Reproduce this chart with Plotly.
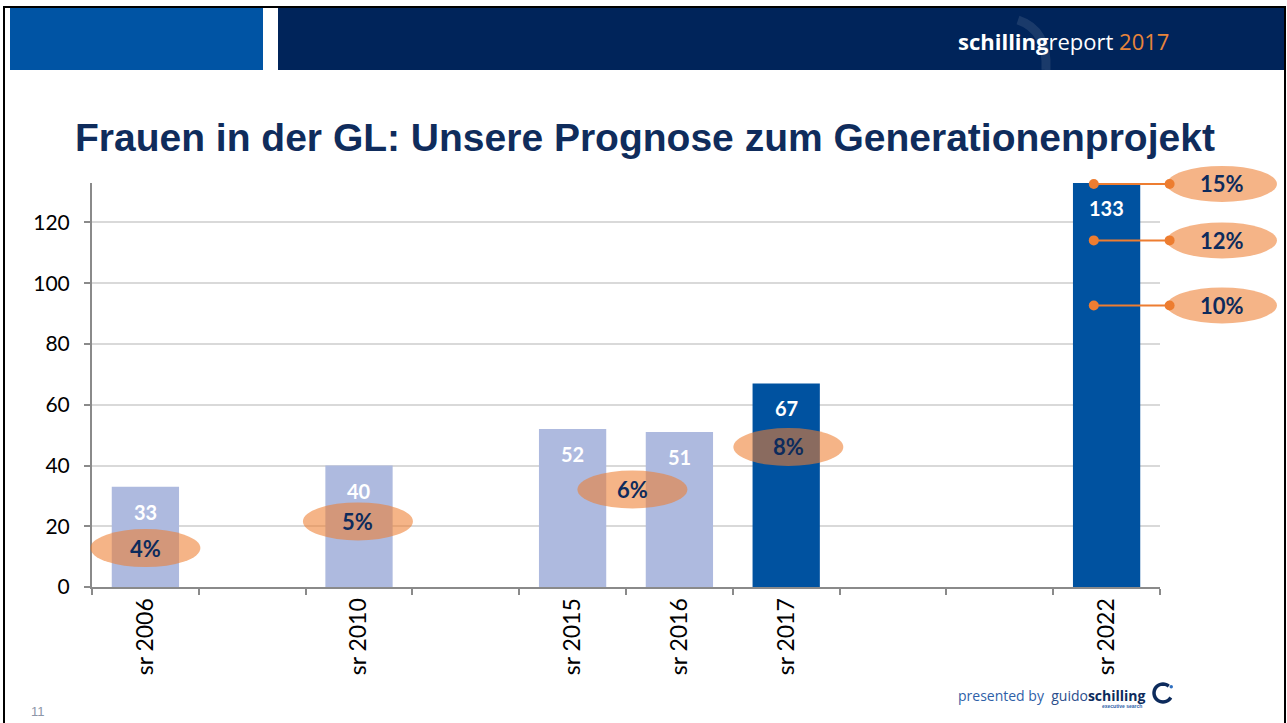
import math
import plotly.graph_objects as go

# ---------------- data ----------------
categories = ["sr 2006", " ", "sr 2010", "  ", "sr 2015", "sr 2016", "sr 2017", "   ", "    ", "sr 2022"]
women_gl = [33, None, 40, None, 52, 51, 67, None, None, 133]
bar_group = ["past", None, "past", None, "past", "past", "current", None, None, "forecast"]

share_labels = ["4%", "5%", "6%", "8%"]
share_pos = [0.0, 1.99, 4.56, 6.02]      # position on category axis
share_y = [12.8, 21.6, 32.1, 46.1]

forecast_labels = ["15%", "12%", "10%"]
forecast_y = [132.7, 114.1, 92.7]
forecast_dot_pos = [8.88, 9.59]
forecast_bubble_pos = 10.08

y_ticks = [0, 20, 40, 60, 80, 100, 120]

# ---------------- style ----------------
LIGHT = "#aebadf"
DARK = "#0052a0"
NAVY = "#0d2b5c"
ORANGE = "#ed7d31"
ELLIPSE = "rgba(237,125,49,0.58)"
GRID = "#d9d9d9"
AXIS = "#8a8a8a"

L, R, T, B = 92, 1160, 183, 587
W, H = 1287, 723
N = len(categories)
Y_MAX = 133


def px(x):
    return (x - L) / (R - L)


def py(y):
    return (B - y) / (B - T)


def cat_paper(i):
    return (i + 0.5) / N


def val_paper(v):
    return v / Y_MAX


colors = [DARK if g in ("current", "forecast") else LIGHT for g in bar_group]

fig = go.Figure()
fig.add_trace(go.Bar(
    x=categories, y=women_gl, marker=dict(color=colors, line=dict(width=0)),
    width=0.63, showlegend=False, hoverinfo="skip",
))

shapes = []
annotations = []

# bar value labels
for c, v in zip(categories, women_gl):
    if v is None:
        continue
    annotations.append(dict(
        x=c, y=v, xref="x", yref="y", text=f"<b>{v}</b>", showarrow=False,
        yshift=-25, yanchor="middle", xanchor="center",
        font=dict(family="Lato", size=20, color="white"),
    ))


def ellipse(xc, yc, rx, ry):
    return dict(
        type="circle", xref="paper", yref="paper", xsizemode="pixel", ysizemode="pixel",
        xanchor=xc, yanchor=yc, x0=-rx, x1=rx, y0=-ry, y1=ry,
        fillcolor=ELLIPSE, line=dict(width=0), layer="above",
    )


# share ellipses on historical bars
for lab, p, yv in zip(share_labels, share_pos, share_y):
    shapes.append(ellipse(cat_paper(p), val_paper(yv), 55, 19))
    annotations.append(dict(
        x=cat_paper(p), y=val_paper(yv), xref="paper", yref="paper", text=f"<b>{lab}</b>",
        showarrow=False, yanchor="middle", xanchor="center",
        font=dict(family="Lato", size=22, color=NAVY),
    ))

# forecast markers with connectors
for lab, yv in zip(forecast_labels, forecast_y):
    x_a, x_b = cat_paper(forecast_dot_pos[0]), cat_paper(forecast_dot_pos[1])
    yp = val_paper(yv)
    shapes.append(dict(type="line", xref="paper", yref="paper", x0=x_a, x1=x_b, y0=yp, y1=yp,
                       line=dict(color=ORANGE, width=2), layer="above"))
    for xx in (x_a, x_b):
        shapes.append(dict(
            type="circle", xref="paper", yref="paper", xsizemode="pixel", ysizemode="pixel",
            xanchor=xx, yanchor=yp, x0=-5, x1=5, y0=-5, y1=5,
            fillcolor=ORANGE, line=dict(width=0), layer="above",
        ))
    shapes.append(ellipse(cat_paper(forecast_bubble_pos), yp, 55, 18))
    annotations.append(dict(
        x=cat_paper(forecast_bubble_pos), y=yp, xref="paper", yref="paper",
        text=f"<b>{lab}</b>", showarrow=False, yanchor="middle", xanchor="center",
        font=dict(family="Lato", size=22, color=NAVY),
    ))

# ---------------- slide decoration ----------------
ring_pts = [(9 * math.cos(math.radians(a)), 9 * math.sin(math.radians(a)))
            for a in range(50, 340, 10)]
ring_path = "M " + " L ".join(f"{x:.2f},{y:.2f}" for x, y in ring_pts)

shapes += [
    dict(type="rect", xref="paper", yref="paper", x0=px(10), x1=px(263), y0=py(70), y1=py(8),
         fillcolor="#0054a4", line=dict(width=0), layer="below"),
    dict(type="rect", xref="paper", yref="paper", x0=px(278), x1=px(1284), y0=py(70), y1=py(8),
         fillcolor="#00245a", line=dict(width=0), layer="below"),
    dict(type="path", xref="paper", yref="paper",
         path=f"M {px(1018)},{py(20)} Q {px(1048)},{py(30)} {px(1046)},{py(70)}",
         line=dict(color="rgba(255,255,255,0.10)", width=9), layer="below"),
    dict(type="rect", xref="paper", yref="paper", x0=px(4), x1=px(1285), y0=py(730), y1=py(7),
         fillcolor="rgba(0,0,0,0)", line=dict(color="black", width=2), layer="below"),
    # footer logo ring (pixel-sized arc)
    dict(type="path", xref="paper", yref="paper", xsizemode="pixel", ysizemode="pixel",
         xanchor=px(1163), yanchor=py(693), path=ring_path,
         line=dict(color="#0d2b5c", width=3.5), layer="above"),
    dict(type="circle", xref="paper", yref="paper", xsizemode="pixel", ysizemode="pixel",
         xanchor=px(1163), yanchor=py(693), x0=6.5, x1=10, y0=4.5, y1=8,
         fillcolor="#2f6fc0", line=dict(width=0), layer="above"),
]

annotations += [
    dict(x=px(1063), y=py(41), xref="paper", yref="paper", showarrow=False,
         xanchor="center", yanchor="middle",
         text="<b>schilling</b>report <span style='color:#e8843a'>2017</span>",
         font=dict(family="Open Sans", size=22, color="white")),
    dict(x=px(645), y=py(138), xref="paper", yref="paper", showarrow=False,
         xanchor="center", yanchor="middle",
         text="<b>Frauen in der GL: Unsere Prognose zum Generationenprojekt</b>",
         font=dict(family="Liberation Sans", size=39, color="#0f2c5c")),
    dict(x=px(38), y=py(711), xref="paper", yref="paper", showarrow=False, text="11",
         xanchor="center", yanchor="middle",
         font=dict(family="Liberation Sans", size=13, color="#8c96a8")),
    dict(x=px(1148), y=py(695), xref="paper", yref="paper", showarrow=False, xanchor="right",
         yanchor="middle",
         text=("<span style='color:#2f5fa8'>presented by </span> "
               "<span style='color:#2c4e8c'>guido</span><b style='color:#0d2b5c'>schilling</b>"),
         font=dict(family="Open Sans", size=14)),
    dict(x=px(1122), y=py(706), xref="paper", yref="paper", showarrow=False,
         xanchor="center", yanchor="middle", text="<b>executive search</b>",
         font=dict(family="Liberation Sans", size=5, color="#2f5fa8")),
]

fig.update_layout(
    width=W, height=H,
    margin=dict(l=L, r=W - R, t=T, b=H - B),
    paper_bgcolor="white", plot_bgcolor="white",
    shapes=shapes, annotations=annotations,
    xaxis=dict(
        type="category", categoryorder="array", categoryarray=categories,
        range=[-0.5, N - 0.5], tickson="boundaries", ticks="outside", ticklen=6,
        tickcolor=AXIS, tickwidth=1.5, showline=True, linecolor=AXIS, linewidth=2,
        tickangle=-90, showgrid=False, fixedrange=True,
        tickfont=dict(family="Lato", size=23, color="black"),
    ),
    yaxis=dict(
        range=[0, Y_MAX], tickvals=y_ticks, ticks="outside", ticklen=6, tickcolor=AXIS,
        tickwidth=1.5, showline=True, linecolor=AXIS, linewidth=2, showgrid=True,
        gridcolor=GRID, gridwidth=1.5, zeroline=False, ticklabelstandoff=10,
        tickfont=dict(family="Lato", size=21, color="black"), fixedrange=True,
    ),
)

fig.write_html("out.html", config={"displayModeBar": False},
               post_script="document.body.style.margin='0';document.body.style.overflow='hidden';")
